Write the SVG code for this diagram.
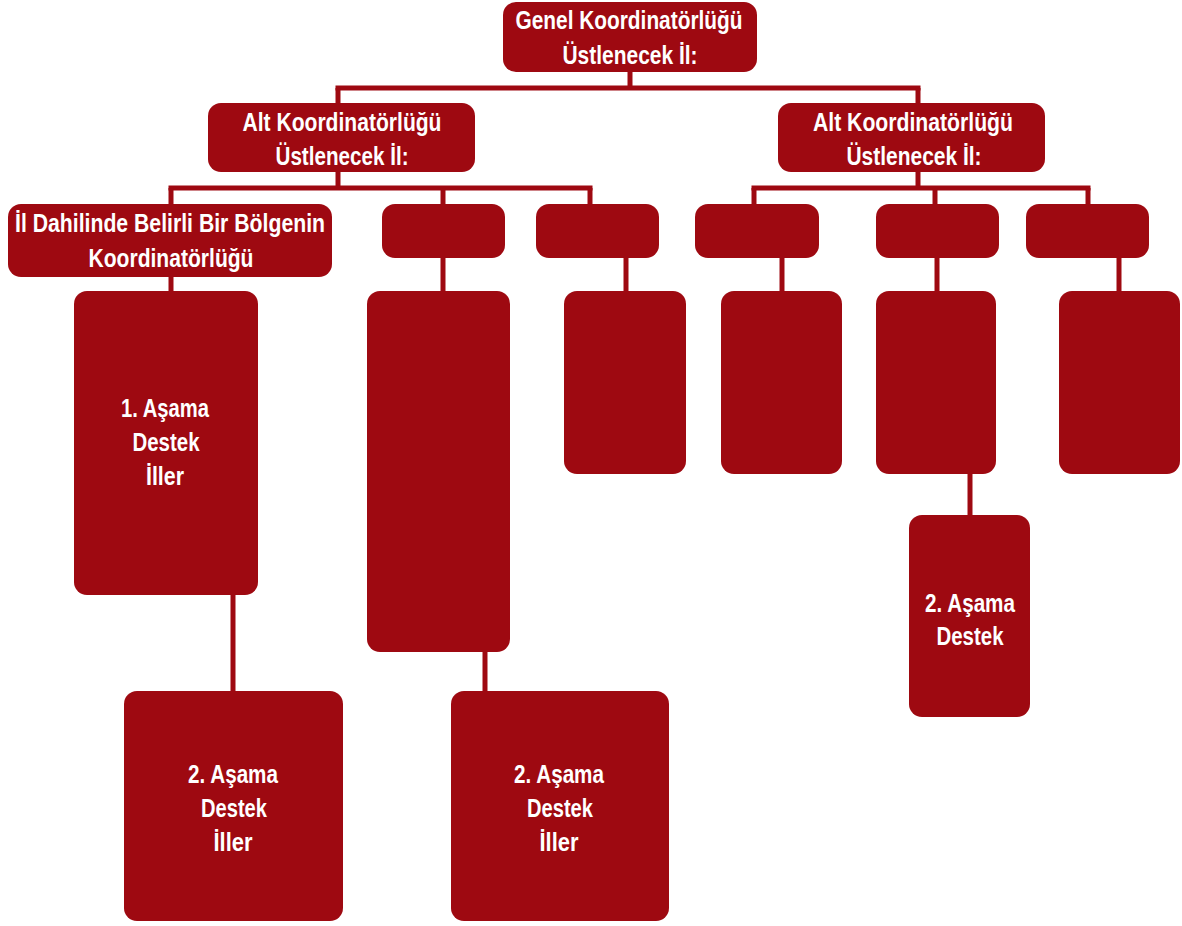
<svg xmlns="http://www.w3.org/2000/svg" width="1182" height="926" viewBox="0 0 1182 926">
<style>
.b{fill:#9E0911;}
.t{fill:#ffffff;font-family:"Liberation Sans Narrow","Liberation Sans",Arial,sans-serif;font-weight:bold;font-size:25px;text-anchor:middle;}
.c line{stroke:#9E0911;stroke-width:5;}
</style>
<rect width="1182" height="926" fill="#ffffff"/>
<g id="connectors" class="c">
<line x1="630" y1="70" x2="630" y2="90"/>
<line x1="335.5" y1="88" x2="920.5" y2="88"/>
<line x1="338" y1="88" x2="338" y2="105"/>
<line x1="918" y1="88" x2="918" y2="105"/>
<line x1="338" y1="170" x2="338" y2="190"/>
<line x1="168.5" y1="188" x2="592.5" y2="188"/>
<line x1="171" y1="188" x2="171" y2="206"/>
<line x1="443" y1="188" x2="443" y2="206"/>
<line x1="590" y1="188" x2="590" y2="206"/>
<line x1="918" y1="170" x2="918" y2="190"/>
<line x1="751.5" y1="188" x2="1090.5" y2="188"/>
<line x1="754" y1="188" x2="754" y2="206"/>
<line x1="935" y1="188" x2="935" y2="206"/>
<line x1="1088" y1="188" x2="1088" y2="206"/>
<line x1="171" y1="275" x2="171" y2="293"/>
<line x1="233" y1="592" x2="233" y2="693"/>
<line x1="443" y1="256" x2="443" y2="293"/>
<line x1="485" y1="650" x2="485" y2="693"/>
<line x1="626" y1="256" x2="626" y2="293"/>
<line x1="782" y1="256" x2="782" y2="293"/>
<line x1="937" y1="256" x2="937" y2="293"/>
<line x1="970" y1="472" x2="970" y2="517"/>
<line x1="1119" y1="256" x2="1119" y2="293"/>
</g>
<g id="n0"><rect class="b" x="503" y="2" width="254" height="70" rx="13"/>
<text class="t" x="629" y="29" textLength="227" lengthAdjust="spacingAndGlyphs">Genel Koordinatörlüğü</text>
<text class="t" x="630" y="64" textLength="135" lengthAdjust="spacingAndGlyphs">Üstlenecek İl:</text></g>
<g id="altL"><rect class="b" x="208" y="103" width="267" height="69" rx="13"/>
<text class="t" x="342" y="131" textLength="199" lengthAdjust="spacingAndGlyphs">Alt Koordinatörlüğü</text>
<text class="t" x="342" y="165" textLength="133" lengthAdjust="spacingAndGlyphs">Üstlenecek İl:</text></g>
<g id="altR"><rect class="b" x="778" y="103" width="267" height="69" rx="13"/>
<text class="t" x="913" y="131" textLength="200" lengthAdjust="spacingAndGlyphs">Alt Koordinatörlüğü</text>
<text class="t" x="914" y="165" textLength="135" lengthAdjust="spacingAndGlyphs">Üstlenecek İl:</text></g>
<g id="L1"><rect class="b" x="8" y="204" width="324" height="73" rx="13"/>
<text class="t" x="170" y="232" textLength="310" lengthAdjust="spacingAndGlyphs">İl Dahilinde Belirli Bir Bölgenin</text>
<text class="t" x="171" y="267" textLength="165" lengthAdjust="spacingAndGlyphs">Koordinatörlüğü</text></g>
<g id="L2"><rect class="b" x="382" y="204" width="123" height="54" rx="13"/></g>
<g id="L3"><rect class="b" x="536" y="204" width="123" height="54" rx="13"/></g>
<g id="R1"><rect class="b" x="695" y="204" width="124" height="54" rx="13"/></g>
<g id="R2"><rect class="b" x="876" y="204" width="123" height="54" rx="13"/></g>
<g id="R3"><rect class="b" x="1026" y="204" width="123" height="54" rx="13"/></g>
<g id="L1a"><rect class="b" x="74" y="291" width="184" height="304" rx="13"/>
<text class="t" x="165" y="417" textLength="88" lengthAdjust="spacingAndGlyphs">1. Aşama</text>
<text class="t" x="166" y="451" textLength="67" lengthAdjust="spacingAndGlyphs">Destek</text>
<text class="t" x="165" y="485" textLength="38" lengthAdjust="spacingAndGlyphs">İller</text></g>
<g id="L1b"><rect class="b" x="124" y="691" width="219" height="230" rx="13"/>
<text class="t" x="233" y="783" textLength="90" lengthAdjust="spacingAndGlyphs">2. Aşama</text>
<text class="t" x="234" y="817" textLength="66" lengthAdjust="spacingAndGlyphs">Destek</text>
<text class="t" x="233" y="851" textLength="39" lengthAdjust="spacingAndGlyphs">İller</text></g>
<g id="L2a"><rect class="b" x="367" y="291" width="143" height="361" rx="13"/></g>
<g id="L2b"><rect class="b" x="451" y="691" width="218" height="230" rx="13"/>
<text class="t" x="559" y="783" textLength="90" lengthAdjust="spacingAndGlyphs">2. Aşama</text>
<text class="t" x="560" y="817" textLength="66" lengthAdjust="spacingAndGlyphs">Destek</text>
<text class="t" x="559" y="851" textLength="39" lengthAdjust="spacingAndGlyphs">İller</text></g>
<g id="L3a"><rect class="b" x="564" y="291" width="122" height="183" rx="13"/></g>
<g id="R1a"><rect class="b" x="721" y="291" width="121" height="183" rx="13"/></g>
<g id="R2a"><rect class="b" x="876" y="291" width="120" height="183" rx="13"/></g>
<g id="R2b"><rect class="b" x="909" y="515" width="121" height="202" rx="13"/>
<text class="t" x="970" y="612" textLength="90" lengthAdjust="spacingAndGlyphs">2. Aşama</text>
<text class="t" x="970" y="645" textLength="67" lengthAdjust="spacingAndGlyphs">Destek</text></g>
<g id="R3a"><rect class="b" x="1059" y="291" width="121" height="183" rx="13"/></g>
</svg>
